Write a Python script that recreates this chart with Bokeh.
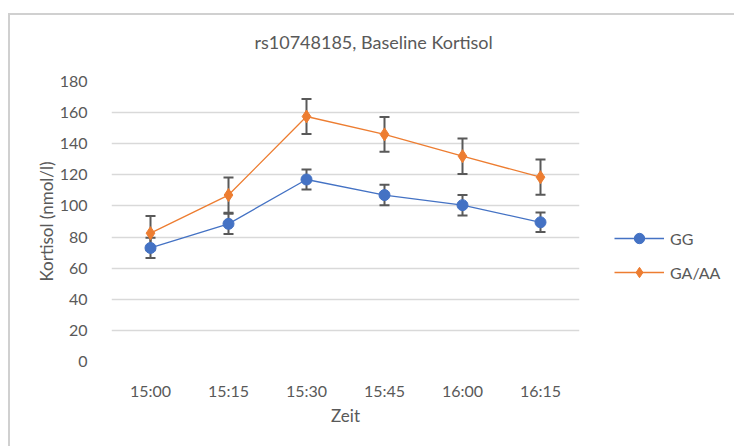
from bokeh.plotting import figure
from bokeh.models import (ColumnDataSource, FactorRange, Range1d, Whisker, TeeHead,
                          Legend, LegendItem, FixedTicker, Title)
from bokeh.embed import file_html
from bokeh.resources import INLINE

times = ["15:00", "15:15", "15:30", "15:45", "16:00", "16:15"]
gg = [73, 88.5, 117, 107, 100.5, 89.5]
gg_err = [6.5, 6.5, 6.5, 6.6, 6.6, 6.3]
ga = [82.5, 107, 157.5, 146, 132, 118.5]
ga_err = [11, 11.3, 11.2, 11.2, 11.4, 11.3]
y_ticks = [0, 20, 40, 60, 80, 100, 120, 140, 160, 180]

FONT = "Lato"
TXT = "#595959"
BLUE = "#4472C4"
ORANGE = "#ED7D31"

src_gg = ColumnDataSource(dict(x=times, y=gg,
                               lo=[v - e for v, e in zip(gg, gg_err)],
                               hi=[v + e for v, e in zip(gg, gg_err)]))
src_ga = ColumnDataSource(dict(x=times, y=ga,
                               lo=[v - e for v, e in zip(ga, ga_err)],
                               hi=[v + e for v, e in zip(ga, ga_err)]))

p = figure(x_range=FactorRange(*times), y_range=Range1d(0, 180),
           width=724, height=431, frame_width=468, frame_height=280,
           min_border_left=101, min_border_right=155, min_border_top=66, min_border_bottom=85,
           title_location=None,
           output_backend="svg", toolbar_location=None, tools="")
p.margin = (13, 0, 0, 8)
p.styles = {"border-top": "2px solid #d0d0d0", "border-left": "2px solid #d0d0d0"}
p.outline_line_color = None
p.background_fill_color = "white"
p.border_fill_color = "white"

spacer = Title(text=" ", text_font_size="1px", standoff=26)
p.add_layout(spacer, "above")
main_title = Title(text="rs10748185, Baseline Kortisol", align="left", offset=143,
                   text_font=FONT, text_font_size="18px", text_font_style="normal",
                   text_color=TXT, standoff=0)
p.add_layout(main_title, "above")

p.xgrid.grid_line_color = None
p.ygrid.grid_line_color = "#d9d9d9"
p.ygrid.grid_line_width = 1.5
p.yaxis.ticker = FixedTicker(ticks=y_ticks)

for ax in (p.xaxis[0], p.yaxis[0]):
    ax.axis_line_color = None
    ax.major_tick_line_color = None
    ax.minor_tick_line_color = None
    ax.major_label_text_font = FONT
    ax.major_label_text_font_size = "16px"
    ax.major_label_text_color = TXT
    ax.axis_label_text_font = FONT
    ax.axis_label_text_font_size = "17px"
    ax.axis_label_text_font_style = "normal"
    ax.axis_label_text_color = TXT

p.xaxis.axis_label = "Zeit"
p.xaxis.major_label_standoff = 13
p.xaxis.axis_label_standoff = 2
p.yaxis.axis_label = "Kortisol (nmol/l)"
p.yaxis.major_label_standoff = 18
p.yaxis.axis_label_standoff = 0

l_gg = p.line("x", "y", source=src_gg, line_color=BLUE, line_width=1.3)
l_ga = p.line("x", "y", source=src_ga, line_color=ORANGE, line_width=1.3)

for src in (src_gg, src_ga):
    w = Whisker(base="x", lower="lo", upper="hi", source=src,
                line_color="#595959", line_width=2,
                upper_head=TeeHead(size=10, line_color="#595959", line_width=2),
                lower_head=TeeHead(size=10, line_color="#595959", line_width=2))
    p.add_layout(w)

m_gg = p.scatter("x", "y", source=src_gg, marker="circle", size=11,
                 fill_color=BLUE, line_color=BLUE)
m_ga = p.scatter("x", "y", source=src_ga, marker="diamond", size=13,
                 fill_color=ORANGE, line_color=ORANGE)

legend = Legend(items=[LegendItem(label="GG", renderers=[l_gg, m_gg]),
                       LegendItem(label="GA/AA", renderers=[l_ga, m_ga])],
                location=(35, 76), orientation="vertical",
                glyph_width=50, glyph_height=26, spacing=8, padding=0, margin=0,
                label_standoff=6, label_text_font=FONT, label_text_font_size="16px",
                label_text_color=TXT, border_line_alpha=0, background_fill_alpha=0)
p.add_layout(legend, "right")

open("out.html", "w").write(file_html(p, INLINE))
